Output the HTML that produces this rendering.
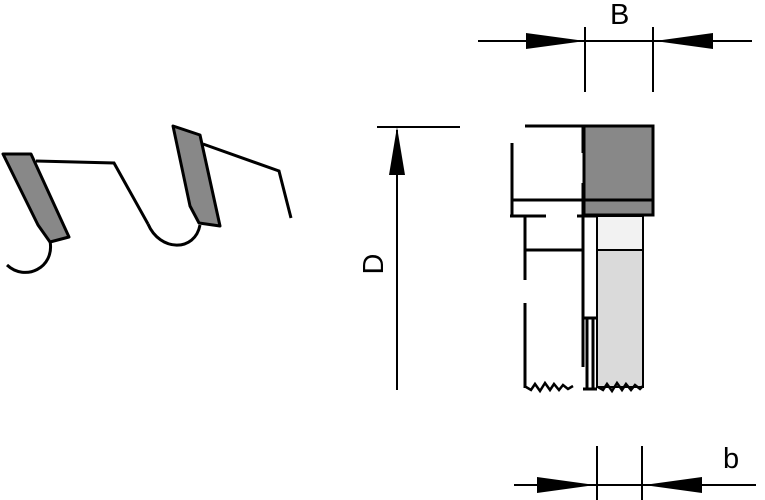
<!DOCTYPE html>
<html><head><style>body{margin:0;background:#fff}svg{display:block}</style></head><body>
<svg width="765" height="500" viewBox="0 0 765 500" xmlns="http://www.w3.org/2000/svg">
<g stroke="#000" fill="none" stroke-width="2">
<line x1="478" y1="41" x2="752" y2="41"/>
<line x1="585" y1="27" x2="585" y2="92"/>
<line x1="653" y1="27" x2="653" y2="92"/>
<line x1="377" y1="127" x2="460" y2="127"/>
<line x1="397" y1="130" x2="397" y2="390"/>
<line x1="514" y1="485" x2="756" y2="485"/>
<line x1="597" y1="446" x2="597" y2="500"/>
<line x1="642" y1="446" x2="642" y2="500"/>
</g>
<g fill="#000">
<polygon points="526,33 585,41 526,49"/>
<polygon points="713,33 655,41 713,49"/>
<polygon points="389,175 397,127 405,175"/>
<polygon points="537,477 595,485 537,493"/>
<polygon points="702,477 644,485 702,493"/>
</g>
<g font-family="Liberation Sans, sans-serif" font-size="29" fill="#000">
<text x="610" y="24">B</text>
<text x="723" y="468">b</text>
<text transform="translate(383,264) rotate(-90)" text-anchor="middle">D</text>
</g>
<rect x="584" y="126" width="69" height="89" fill="#888" stroke="#000" stroke-width="3"/>
<line x1="512" y1="200" x2="653" y2="200" stroke="#000" stroke-width="3"/>
<rect x="597" y="216" width="46" height="34" fill="#f2f2f2" stroke="#000" stroke-width="2"/>
<rect x="597" y="250" width="46" height="137" fill="#dadada" stroke="#000" stroke-width="2"/>
<g stroke="#000" fill="none" stroke-width="3">
<line x1="525" y1="126" x2="584" y2="126"/>
<line x1="583" y1="126" x2="583" y2="153"/>
<line x1="583" y1="183" x2="583" y2="216"/>
<line x1="512" y1="143" x2="512" y2="216"/>
<line x1="510" y1="216" x2="546" y2="216"/>
<line x1="577" y1="216" x2="597" y2="216"/>
<line x1="525" y1="216" x2="525" y2="280"/>
<line x1="525" y1="303" x2="525" y2="388"/>
<line x1="525" y1="250" x2="583" y2="250"/>
<line x1="583" y1="216" x2="583" y2="367"/>
<line x1="583" y1="318" x2="597" y2="318"/>
<line x1="587" y1="318" x2="587" y2="389"/>
<line x1="593" y1="318" x2="593" y2="389"/>
<line x1="583" y1="389" x2="597" y2="389"/>
</g>
<g stroke="#000" fill="none" stroke-width="2.5">
<polyline points="526,387 531,390 535,384 540,391 545,383 550,390 554,384 559,390 563,385 568,389 573,386"/>
<polyline points="598,387 603,390 607,384 612,391 617,383 622,390 626,384 631,390 635,385 640,389 643,386"/>
</g>
<g stroke="#000" stroke-width="3" stroke-linejoin="round">
<polygon points="3,154 31,154 69,237 50,242 38,225" fill="#888"/>
<polygon points="173,126 200,135 220,226 199,223 190,206" fill="#888"/>
</g>
<g stroke="#000" stroke-width="3" fill="none">
<polyline points="36,161 114,163 148,224"/>
<path d="M148,224 C160,252 195,252 200,225"/>
<polyline points="203,144 279,171 291,218"/>
<path d="M50,241 C55,268 25,282 7,265"/>
</g>
</svg>
</body></html>
